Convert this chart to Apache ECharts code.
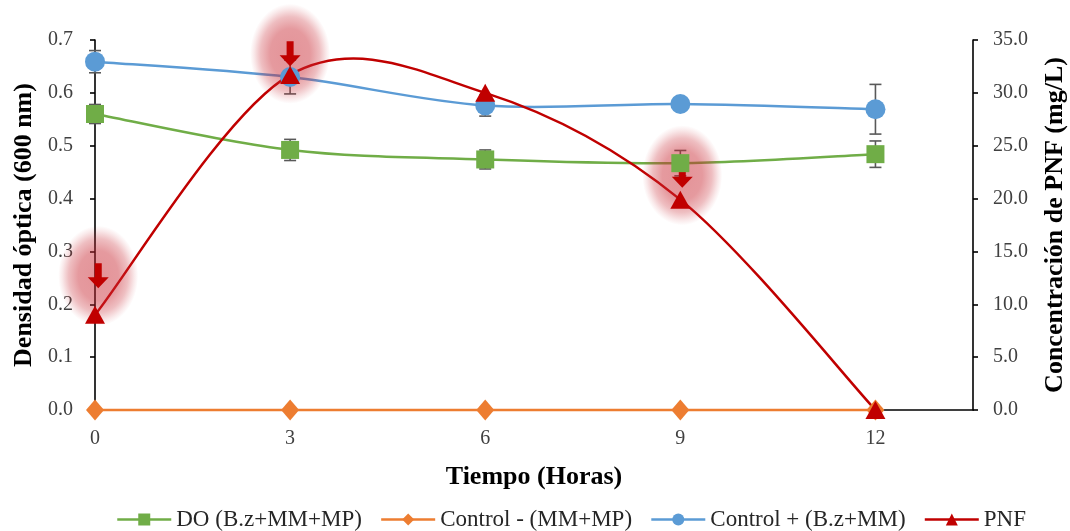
<!DOCTYPE html>
<html>
<head>
<meta charset="utf-8">
<script src="https://cdn.jsdelivr.net/npm/echarts@6/dist/echarts.min.js"></script>
<style>
  html, body { margin: 0; padding: 0; background: #fff; }
  #chart { width: 1070px; height: 531px; }
</style>
</head>
<body>
<div id="chart"></div>
<script>
// Sampling times (h)
const hours = [0, 3, 6, 9, 12];

// Optical density at 600 nm, mean and error
const doMean = [0.560, 0.492, 0.474, 0.467, 0.484];
const doErr = [0.018, 0.020, 0.018, 0.024, 0.025];
const ctrlNegMean = [0, 0, 0, 0, 0];
const ctrlPosMean = [0.659, 0.630, 0.576, 0.579, 0.569];
const ctrlPosErr = [0.021, 0.032, 0.020, 0.000, 0.047];

// PNF concentration (mg/L)
const pnf = [9.0, 31.7, 30.0, 19.9, 0.0];

// Highlighted PNF readings (hour, mg/L)
const arrowHours = [0.05, 3, 9.03];
const arrowPnf = [12.7, 33.7, 22.2];

const names = ['DO (B.z+MM+MP)', 'Control - (MM+MP)', 'Control + (B.z+MM)', 'PNF'];
const FONT = '"Liberation Serif", "DejaVu Serif", serif';

const C_DO = '#70AD47', C_NEG = '#ED7D31', C_POS = '#5B9BD5', C_PNF = '#C00000';
const ERR = '#595959';

// Excel-style smoothed curve: one cubic Bezier segment per data interval
function curveSeries(name, values, color, yAxisIndex) {
  return {
    name: name + ' curve',
    type: 'custom',
    yAxisIndex: yAxisIndex,
    silent: true,
    data: hours.map((h, i) => [h, values[i]]),
    renderItem: function (params, api) {
      const i = params.dataIndex;
      if (i >= hours.length - 1) return null;
      const n = hours.length;
      const P = k => api.coord([hours[k], values[k]]);
      const p0 = P(Math.max(i - 1, 0)), p1 = P(i), p2 = P(i + 1), p3 = P(Math.min(i + 2, n - 1));
      return {
        type: 'bezierCurve',
        shape: {
          x1: p1[0], y1: p1[1], x2: p2[0], y2: p2[1],
          cpx1: p1[0] + (p2[0] - p0[0]) / 6, cpy1: p1[1] + (p2[1] - p0[1]) / 6,
          cpx2: p2[0] - (p3[0] - p1[0]) / 6, cpy2: p2[1] - (p3[1] - p1[1]) / 6
        },
        style: { fill: null, stroke: color, lineWidth: 2.5 }
      };
    }
  };
}

function errorSeries(name, mean, err) {
  return {
    name: name + ' error',
    type: 'custom',
    yAxisIndex: 0,
    silent: true,
    data: hours.map((h, i) => [h, mean[i] - err[i], mean[i] + err[i]]),
    renderItem: function (params, api) {
      const lo = api.coord([api.value(0), api.value(1)]);
      const hi = api.coord([api.value(0), api.value(2)]);
      const cap = 6;
      const st = { stroke: ERR, lineWidth: 1.6 };
      return {
        type: 'group',
        children: [
          { type: 'line', shape: { x1: lo[0], y1: lo[1], x2: hi[0], y2: hi[1] }, style: st },
          { type: 'line', shape: { x1: lo[0] - cap, y1: lo[1], x2: lo[0] + cap, y2: lo[1] }, style: st },
          { type: 'line', shape: { x1: hi[0] - cap, y1: hi[1], x2: hi[0] + cap, y2: hi[1] }, style: st }
        ]
      };
    }
  };
}

function markerSeries(name, values, color, symbol, size, yAxisIndex) {
  return {
    name: name,
    type: 'line',
    yAxisIndex: yAxisIndex,
    color: color,
    symbol: symbol,
    symbolSize: size,
    showSymbol: true,
    lineStyle: { opacity: 0, width: 2.5 },
    itemStyle: { color: color, opacity: 1 },
    emphasis: { disabled: true },
    data: hours.map((h, i) => [h, values[i]])
  };
}

const arrowPath = 'path://M7,0 L14,0 L14,14 L21,14 L10.5,25 L0,14 L7,14 Z';

const chart = echarts.init(document.getElementById('chart'), null, { renderer: 'canvas' });

chart.setOption({
  animation: false,
  backgroundColor: '#ffffff',
  textStyle: { fontFamily: FONT },
  grid: { left: 95, right: 97, top: 40, bottom: 121, containLabel: false, outerBoundsMode: 'none' },
  legend: {
    data: names,
    left: 111,
    bottom: -5,
    itemWidth: 54,
    itemHeight: 15,
    itemGap: 18,
    selectedMode: false,
    lineStyle: { width: 2.5, opacity: 1 },
    textStyle: { fontFamily: FONT, fontSize: 23, color: '#262626' }
  },
  xAxis: {
    type: 'value',
    min: 0,
    max: 13.5,
    interval: 3,
    name: 'Tiempo (Horas)',
    nameLocation: 'middle',
    nameGap: 54,
    nameTextStyle: { fontFamily: FONT, fontSize: 26, fontWeight: 'bold', color: '#000' },
    axisLine: { lineStyle: { color: '#000', width: 1.6 } },
    axisTick: { show: false },
    splitLine: { show: false },
    axisLabel: {
      margin: 19,
      fontFamily: FONT, fontSize: 20, color: '#404040',
      formatter: v => (v % 3 === 0 ? String(v) : '')
    }
  },
  yAxis: [
    {
      type: 'value',
      min: 0, max: 0.7, interval: 0.1,
      name: 'Densidad óptica (600 nm)',
      nameLocation: 'middle',
      nameRotate: 90,
      nameGap: 57,
      nameTextStyle: { fontFamily: FONT, fontSize: 26, fontWeight: 'bold', color: '#000' },
      axisLine: { show: true, lineStyle: { color: '#000', width: 1.6 } },
      axisTick: { show: true, length: 5, lineStyle: { color: '#000', width: 1.6 } },
      splitLine: { show: false },
      axisLabel: { margin: 22, fontFamily: FONT, fontSize: 20, color: '#404040', formatter: v => v.toFixed(1) }
    },
    {
      type: 'value',
      min: 0, max: 35, interval: 5,
      position: 'right',
      name: 'Concentración de PNF (mg/L)',
      nameLocation: 'middle',
      nameRotate: 90,
      nameGap: 69,
      nameTextStyle: { fontFamily: FONT, fontSize: 26, fontWeight: 'bold', color: '#000' },
      axisLine: { show: true, lineStyle: { color: '#000', width: 1.6 } },
      axisTick: { show: true, length: 5, lineStyle: { color: '#000', width: 1.6 } },
      splitLine: { show: false },
      axisLabel: { margin: 20, fontFamily: FONT, fontSize: 20, color: '#404040', formatter: v => v.toFixed(1) }
    }
  ],
  series: [
    errorSeries(names[0], doMean, doErr),
    curveSeries(names[0], doMean, C_DO, 0),
    markerSeries(names[0], doMean, C_DO, 'rect', 18, 0),

    curveSeries(names[1], ctrlNegMean, C_NEG, 0),
    markerSeries(names[1], ctrlNegMean, C_NEG, 'diamond', [18, 21], 0),

    errorSeries(names[2], ctrlPosMean, ctrlPosErr),
    curveSeries(names[2], ctrlPosMean, C_POS, 0),
    markerSeries(names[2], ctrlPosMean, C_POS, 'circle', 20, 0),

    curveSeries(names[3], pnf, C_PNF, 1),
    markerSeries(names[3], pnf, C_PNF, 'triangle', [20, 18], 1),

    // soft red halo behind the highlight arrows
    {
      name: 'halo',
      type: 'custom',
      yAxisIndex: 1,
      silent: true,
      data: arrowHours.map((h, i) => [h, arrowPnf[i]]),
      renderItem: function (params, api) {
        const c = api.coord([api.value(0), api.value(1)]);
        return {
          type: 'circle',
          x: c[0], y: c[1],
          scaleY: 1.25,
          shape: { cx: 0, cy: 0, r: 40 },
          style: {
            fill: {
              type: 'radial', x: 0.5, y: 0.5, r: 0.5,
              colorStops: [
                { offset: 0, color: 'rgba(200,40,50,0.5)' },
                { offset: 0.5, color: 'rgba(200,40,50,0.47)' },
                { offset: 0.74, color: 'rgba(200,40,50,0.3)' },
                { offset: 0.9, color: 'rgba(200,40,50,0.1)' },
                { offset: 1, color: 'rgba(200,40,50,0)' }
              ]
            }
          }
        };
      }
    },
    {
      name: 'arrows',
      type: 'scatter',
      yAxisIndex: 1,
      silent: true,
      symbol: arrowPath,
      symbolSize: [21, 25],
      itemStyle: { color: C_PNF, opacity: 1 },
      data: arrowHours.map((h, i) => [h, arrowPnf[i]])
    }
  ]
});
</script>
</body>
</html>
